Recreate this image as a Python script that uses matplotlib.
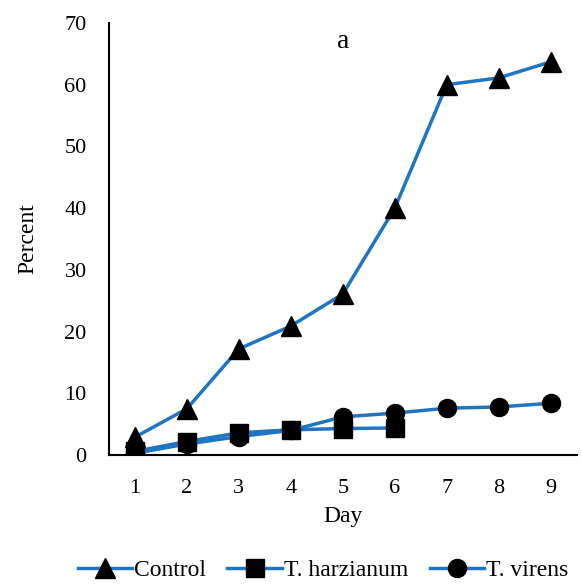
import matplotlib.pyplot as plt

# Data
days = [1, 2, 3, 4, 5, 6, 7, 8, 9]
control = [2.9, 7.5, 17.2, 20.9, 26.1, 40.0, 60.0, 61.1, 63.7]
harz_days = [1, 2, 3, 4, 5, 6]
harzianum = [0.6, 2.2, 3.6, 4.1, 4.3, 4.4]
virens = [0.3, 1.8, 3.0, 4.0, 6.2, 6.8, 7.6, 7.8, 8.4]

plt.rcParams['font.family'] = ['Liberation Serif', 'DejaVu Serif']
blue = '#1f75c1'

fig = plt.figure(figsize=(5.82, 5.88), dpi=100)
ax = fig.add_axes([0.187, 0.226, 0.804, 0.735])

ax.plot(days, control, color=blue, lw=2.5, marker='^', ms=14, mfc='black', mec='black', label='Control')
ax.plot(harz_days, harzianum, color=blue, lw=2.5, marker='s', ms=12.5, mfc='black', mec='black', label='T. harzianum')
ax.plot(days, virens, color=blue, lw=2.5, marker='o', ms=13, mfc='black', mec='black', label='T. virens')

ax.set_xlim(0.5, 9.5)
ax.set_ylim(0, 70)
ax.set_xticks(days)
ax.set_yticks(range(0, 71, 10))
ax.tick_params(length=0, labelsize=16)
ax.tick_params(axis='x', pad=17)
ax.tick_params(axis='y', pad=16)
ax.spines['top'].set_visible(False)
ax.spines['right'].set_visible(False)
ax.spines['left'].set_linewidth(1.5)
ax.spines['bottom'].set_linewidth(1.5)
ax.set_xlabel('Day', fontsize=17, labelpad=6)
ax.set_ylabel('Percent', fontsize=17, labelpad=19)

ax.text(0.5, 0.985, 'a', transform=ax.transAxes, fontsize=20, ha='center', va='top')

fig.legend(loc='lower center', bbox_to_anchor=(0.555, -0.025), ncol=3, frameon=False,
           fontsize=17, handlelength=2.3, columnspacing=0.9, handletextpad=0.1)

plt.savefig('out.png', dpi=100)
